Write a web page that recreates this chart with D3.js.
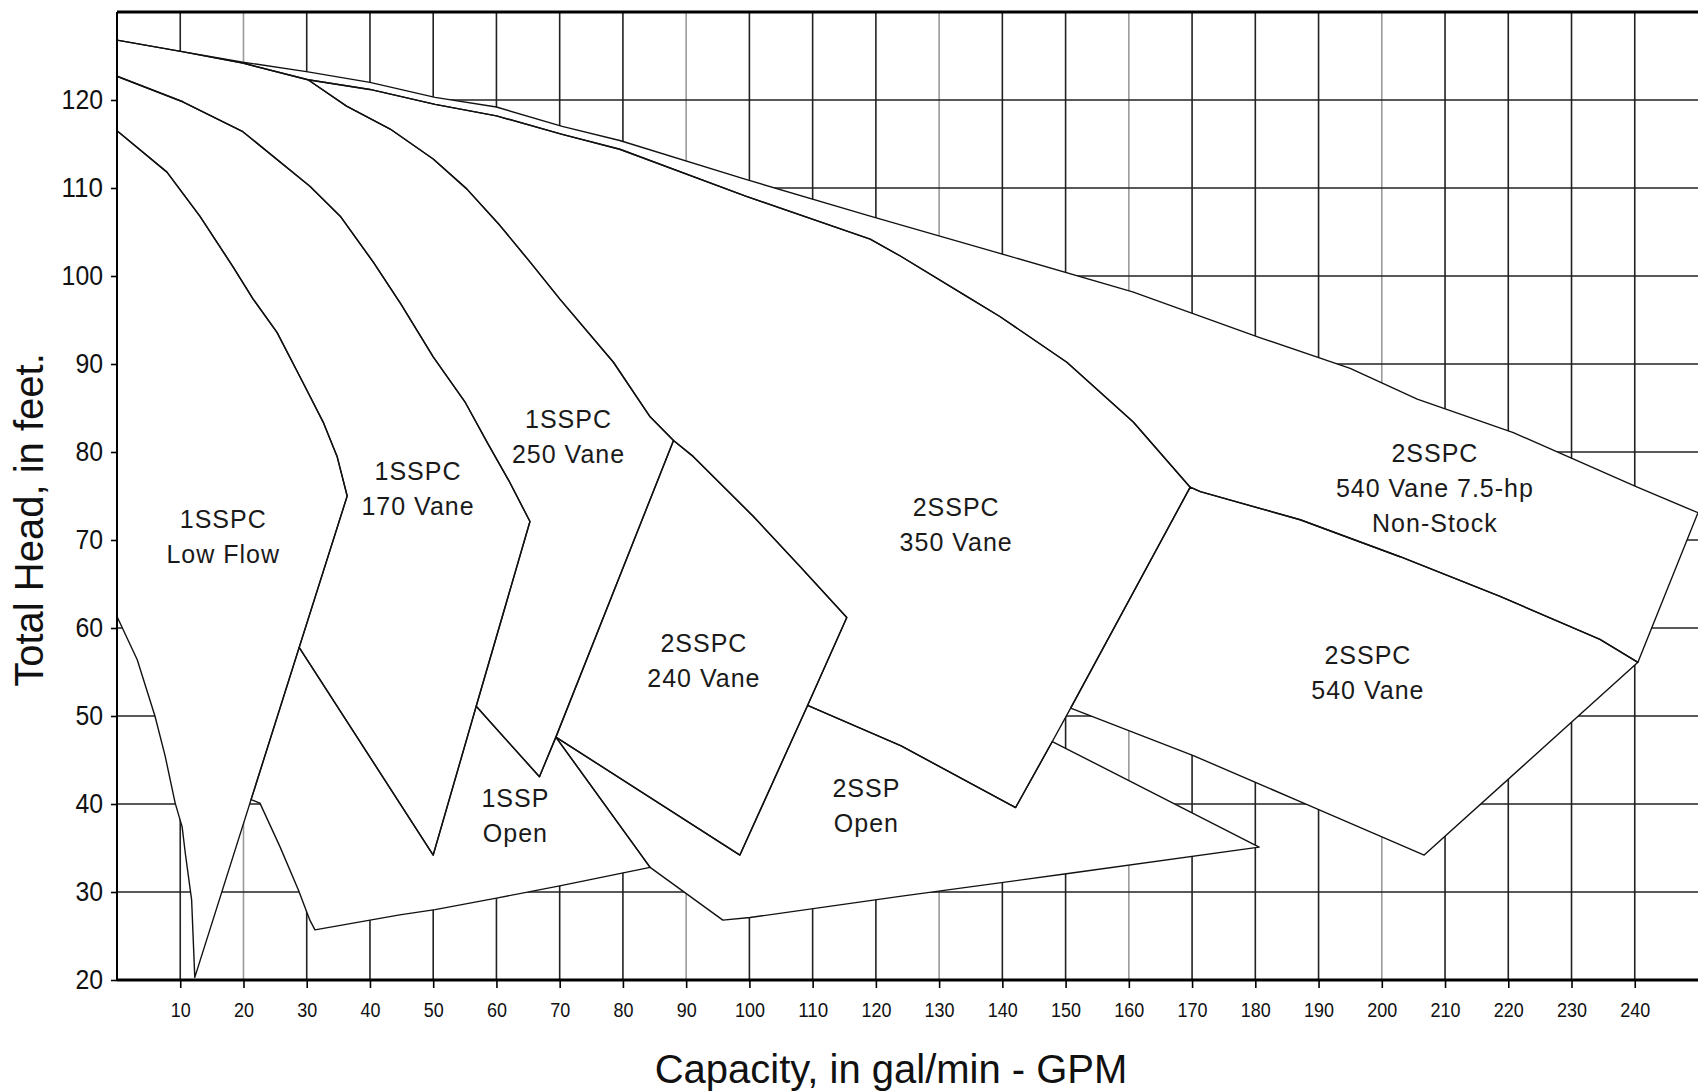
<!DOCTYPE html>
<html>
<head>
<meta charset="utf-8">
<script src="https://cdn.jsdelivr.net/npm/d3@7"></script>
<style>
  body { margin: 0; background: #fff; }
  svg { display: block; font-family: "Liberation Sans", Arial, sans-serif; }
</style>
</head>
<body>
<svg width="1698" height="1092"></svg>
<script>
// axis ticks
const xTicks = d3.range(10, 250, 10);
const yTicks = d3.range(20, 130, 10);
const yGrid = d3.range(30, 130, 10);
const lightLines = [20, 90, 130, 160, 200]; // faint verticals on the scan

// pump regions, [gpm, feet]
const lowFlow = [
  [0,116.5],[7.9,111.8],[13.1,106.8],[18.3,101.1],[21.5,97.4],[25.3,93.6],[29.4,87.9],[32.6,83.4],[34.8,79.5],[36.4,75],
  [12.3,20.3],
  [11.8,29.1],[10.8,34.4],[10.3,37.4],[9.2,40.1],[7.6,45.5],[6.0,50],[3.2,56.4],[0,61.3]
];
const vane170 = [
  [0,122.7],[10.4,119.8],[19.9,116.4],[30.5,110.2],[35.3,106.8],[40.5,101.6],[44.9,96.8],[50,90.8],[55.1,85.6],[58.6,81],[62,76.7],[65.3,72.1],
  [56.8,51.1],[50,34.2],[28.8,57.8],
  [36.4,75],[34.8,79.5],[32.6,83.4],[29.4,87.9],[25.3,93.6],[21.5,97.4],[18.3,101.1],[13.1,106.8],[7.9,111.8],[0,116.5]
];
const vane250 = [
  [0,126.8],[10.3,125.5],[19.9,124.2],[30.2,122.3],
  [36.3,119.3],[43.2,116.7],[50,113.3],[55.3,109.9],[60.6,105.7],[65.3,101.6],[70,97.4],[78.5,90.2],[84.3,84.0],[88,81.3],
  [69.4,47.6],[66.8,43.1],[56.8,51.1],
  [65.3,72.1],[62,76.7],[58.6,81],[55.1,85.6],[50,90.8],[44.9,96.8],[40.5,101.6],[35.3,106.8],[30.5,110.2],[19.9,116.4],[10.4,119.8],[0,122.7]
];
const vane240 = [
  [88,81.3],[91.1,79.5],[100.6,72.7],[108,67],[115.4,61.2],
  [109.2,51.2],[98.5,34.2],[69.4,47.6]
];
const vane350 = [
  [30.2,122.3],[40,121.2],[50.3,119.5],[60,118.2],[70.4,116.1],[79.5,114.4],[99.3,109.1],[119.1,104.2],[123.8,102.3],[134.1,97.8],[139.6,95.4],[150.2,90.2],[160.7,83.4],[169.7,76.0],
  [150.8,50.9],[147.9,47.1],[142.1,39.6],
  [124,46.6],[109.2,51.2],
  [115.4,61.2],[108,67],[100.6,72.7],[91.1,79.5],[88,81.3],
  [84.3,84.0],[78.5,90.2],[70,97.4],[65.3,101.6],[60.6,105.7],[55.3,109.9],[50,113.3],[43.2,116.7],[36.3,119.3]
];
const vane540hp = [
  [0,126.8],[10.3,125.5],[19.9,124.3],[30.2,123.2],[40,122],[50.3,120.3],[60,119.2],[70.4,117],[79.5,115.4],[99.3,111],[119.1,106.8],[138.5,102.8],[160.6,98.2],[180.7,93],[195,89.5],[205.6,86],[220.8,82.2],[240.4,76],[250,73.1],
  [240.5,56.1],
  [234.5,58.7],[218.7,63.6],[202.9,68.1],[187.1,72.3],[171.3,75.5],[169.7,76.0],
  [160.7,83.4],[150.2,90.2],[139.6,95.4],[134.1,97.8],[123.8,102.3],[119.1,104.2],[99.3,109.1],[79.5,114.4],[70.4,116.1],[60,118.2],[50.3,119.5],[40,121.2],[30.2,122.3],[19.9,124.2],[10.3,125.5]
];
const vane540 = [
  [169.7,76.0],[171.3,75.5],[187.1,72.3],[202.9,68.1],[218.7,63.6],[234.5,58.7],[240.5,56.1],
  [206.7,34.2],
  [187,40.3],[170.2,45.5],[160.5,48.2],[150.8,50.9]
];
const open2 = [
  [69.4,47.6],[84.3,32.8],[95.8,26.8],
  [100.1,27.1],[123.8,29.5],[150.4,32.1],[180.6,35.1],
  [147.9,47.1],[142.1,39.6],[124,46.6],[109.2,51.2],[98.5,34.2]
];
const open1 = [
  [28.8,57.8],[50,34.2],[56.8,51.1],[66.8,43.1],[69.4,47.6],[84.3,32.8],
  [70,30.7],[60,29.3],[50.3,28],[44.7,27.4],[31.3,25.7],
  [30.5,26.8],[28.7,30.2],[25.8,35.1],[22.6,40.1],[21.2,40.5]
];

const regions = [lowFlow, vane170, vane250, vane240, vane350, vane540hp, vane540, open2, open1];

// labels: [gpm, feet of first line, lines]
const labels = [
  [16.8, 72.1, ["1SSPC", "Low Flow"]],
  [47.6, 77.6, ["1SSPC", "170 Vane"]],
  [71.4, 83.5, ["1SSPC", "250 Vane"]],
  [92.8, 58.0, ["2SSPC", "240 Vane"]],
  [132.7, 73.5, ["2SSPC", "350 Vane"]],
  [208.4, 79.6, ["2SSPC", "540 Vane 7.5-hp", "Non-Stock"]],
  [197.8, 56.7, ["2SSPC", "540 Vane"]],
  [63.0, 40.4, ["1SSP", "Open"]],
  [118.5, 41.5, ["2SSP", "Open"]]
];

const svg = d3.select("svg");
const x = d3.scaleLinear().domain([0, 250]).range([117, 1698]);
const y = d3.scaleLinear().domain([20, 130]).range([980, 12]);

svg.append("rect").attr("width", 1698).attr("height", 1092).attr("fill", "#fff");

// grid
const grid = svg.append("g");
grid.selectAll("line.v")
  .data(xTicks)
  .join("line")
  .attr("x1", d => x(d)).attr("x2", d => x(d))
  .attr("y1", y(20)).attr("y2", y(130))
  .attr("stroke", d => lightLines.includes(d) ? "#9a9a9a" : "#222")
  .attr("stroke-width", 1.6);
grid.selectAll("line.h")
  .data(yGrid)
  .join("line")
  .attr("x1", x(0)).attr("x2", x(250))
  .attr("y1", d => y(d)).attr("y2", d => y(d))
  .attr("stroke", "#222")
  .attr("stroke-width", 1.6);

// regions: white fill hides the grid, outlines drawn after
const line = d3.line().x(d => x(d[0])).y(d => y(d[1]));
svg.append("g").selectAll("path")
  .data(regions)
  .join("path")
  .attr("d", d => line(d) + "Z")
  .attr("fill", "#fff");
svg.append("g").selectAll("path")
  .data(regions)
  .join("path")
  .attr("d", d => line(d) + "Z")
  .attr("fill", "none")
  .attr("stroke", "#111")
  .attr("stroke-width", 1.4)
  .attr("stroke-linejoin", "round");

// frame
svg.append("line")
  .attr("x1", x(0)).attr("x2", x(250)).attr("y1", y(130)).attr("y2", y(130))
  .attr("stroke", "#000").attr("stroke-width", 3);
svg.append("line")
  .attr("x1", x(0)).attr("x2", x(250)).attr("y1", y(20)).attr("y2", y(20))
  .attr("stroke", "#000").attr("stroke-width", 3);
svg.append("line")
  .attr("x1", x(0)).attr("x2", x(0)).attr("y1", y(130)).attr("y2", y(20))
  .attr("stroke", "#000").attr("stroke-width", 2);

// axes (scan font is a narrow sans, so squeeze the glyphs a bit)
const yAxis = svg.append("g")
  .attr("transform", `translate(${x(0)},0)`)
  .call(d3.axisLeft(y).tickValues(yTicks).tickSize(6).tickPadding(8));
yAxis.select(".domain").remove();
yAxis.selectAll("line").attr("stroke", "#000").attr("stroke-width", 1.6);
yAxis.selectAll("text")
  .attr("fill", "#111")
  .attr("textLength", d => String(d).length * 13.8)
  .attr("lengthAdjust", "spacingAndGlyphs")
  .style("font-size", "28px")
  .style("font-family", "'Liberation Sans', Arial, sans-serif");

const xAxis = svg.append("g")
  .attr("transform", `translate(0,${y(20)})`)
  .call(d3.axisBottom(x).tickValues(xTicks).tickSize(8).tickPadding(15));
xAxis.select(".domain").remove();
xAxis.selectAll("line").attr("stroke", "#000").attr("stroke-width", 1.6);
xAxis.selectAll("text")
  .attr("fill", "#111")
  .attr("textLength", d => String(d).length * 10)
  .attr("lengthAdjust", "spacingAndGlyphs")
  .style("font-size", "20px")
  .style("font-family", "'Liberation Sans', Arial, sans-serif");

// region labels
const lab = svg.append("g")
  .attr("fill", "#1a1a1a")
  .attr("text-anchor", "middle")
  .style("font-size", "25px")
  .style("letter-spacing", "1px");
labels.forEach(([gx, ft, lines]) => {
  lines.forEach((t, i) => {
    lab.append("text")
      .attr("x", x(gx))
      .attr("y", y(ft) + i * 35)
      .attr("dominant-baseline", "middle")
      .text(t);
  });
});

// axis titles
svg.append("text")
  .attr("x", 891).attr("y", 1072)
  .attr("text-anchor", "middle")
  .attr("dominant-baseline", "middle")
  .attr("fill", "#111")
  .style("font-size", "40px")
  .text("Capacity, in gal/min - GPM");
svg.append("text")
  .attr("transform", "translate(32,520) rotate(-90)")
  .attr("text-anchor", "middle")
  .attr("dominant-baseline", "middle")
  .attr("fill", "#111")
  .style("font-size", "40px")
  .text("Total Head, in feet.");
</script>
</body>
</html>
